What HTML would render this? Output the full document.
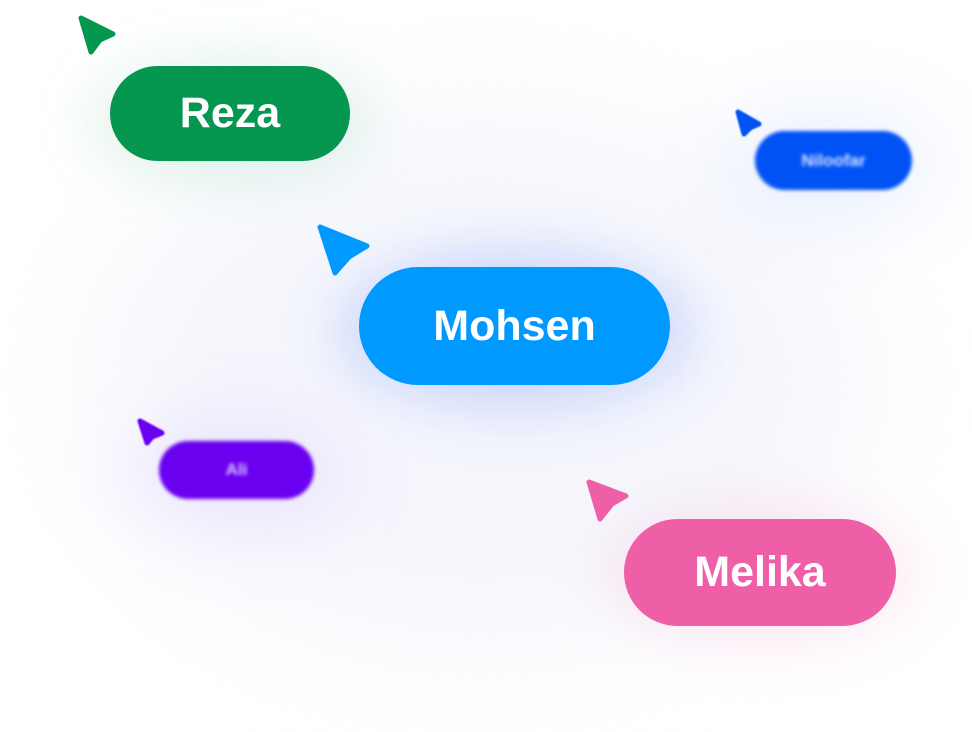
<!DOCTYPE html>
<html><head><style>
html,body{margin:0;padding:0;background:#fff;}
body{width:972px;height:732px;position:relative;overflow:hidden;font-family:"Liberation Sans",sans-serif;}
.p{position:absolute;border-radius:999px;color:#fff;font-weight:bold;display:flex;align-items:center;justify-content:center;}
.glow{position:absolute;border-radius:50%;filter:blur(40px);}
svg{position:absolute;left:0;top:0;}
</style></head><body>
<div class="glow" style="left:100px;top:120px;width:760px;height:520px;background:rgba(225,230,245,0.35);filter:blur(70px)"></div>
<div class="glow" style="left:90px;top:60px;width:280px;height:120px;background:rgba(5,150,80,0.12);filter:blur(30px)"></div>
<div class="glow" style="left:720px;top:110px;width:220px;height:110px;background:rgba(0,82,245,0.08)"></div>
<div class="glow" style="left:340px;top:255px;width:350px;height:150px;background:rgba(30,90,255,0.22);filter:blur(30px)"></div>
<div class="glow" style="left:120px;top:420px;width:230px;height:110px;background:rgba(106,0,240,0.08)"></div>
<div class="glow" style="left:605px;top:505px;width:310px;height:135px;background:rgba(238,95,168,0.15);filter:blur(30px)"></div>

<div class="p" style="left:110px;top:66px;width:240px;height:95px;background:#05964f;font-size:43px;">Reza</div>
<div class="p" style="left:755px;top:131px;width:157px;height:59px;background:#0052f5;font-size:17px;filter:blur(1.8px);color:#d8e2ff">Niloofar</div>
<div class="p" style="left:359px;top:267px;width:311px;height:118px;background:#0099ff;font-size:43px;">Mohsen</div>
<div class="p" style="left:159px;top:441px;width:155px;height:58px;background:#6a00f0;font-size:17px;filter:blur(1.8px);color:#d9c8ff">Ali</div>
<div class="p" style="left:624px;top:519px;width:272px;height:107px;background:#ee5fa8;font-size:43px;">Melika</div>

<svg width="972" height="732">
<g stroke-linejoin="round" stroke-width="5">
<polygon points="81,18 113,34 100,40 91,52" fill="#05964f" stroke="#05964f"/>
<polygon points="738,112 759,124 750,128 744,134" fill="#0052f5" stroke="#0052f5" style="filter:blur(0.8px)"/>
<polygon points="320,227 367,246 349,257 335,273" fill="#0099ff" stroke="#0099ff"/>
<polygon points="140,421 162,433 152,437 147,443" fill="#6a00f0" stroke="#6a00f0" style="filter:blur(0.8px)"/>
<polygon points="589,482 626,496 612,504 600,519" fill="#ee5fa8" stroke="#ee5fa8"/>
</g>
</svg>
</body></html>
